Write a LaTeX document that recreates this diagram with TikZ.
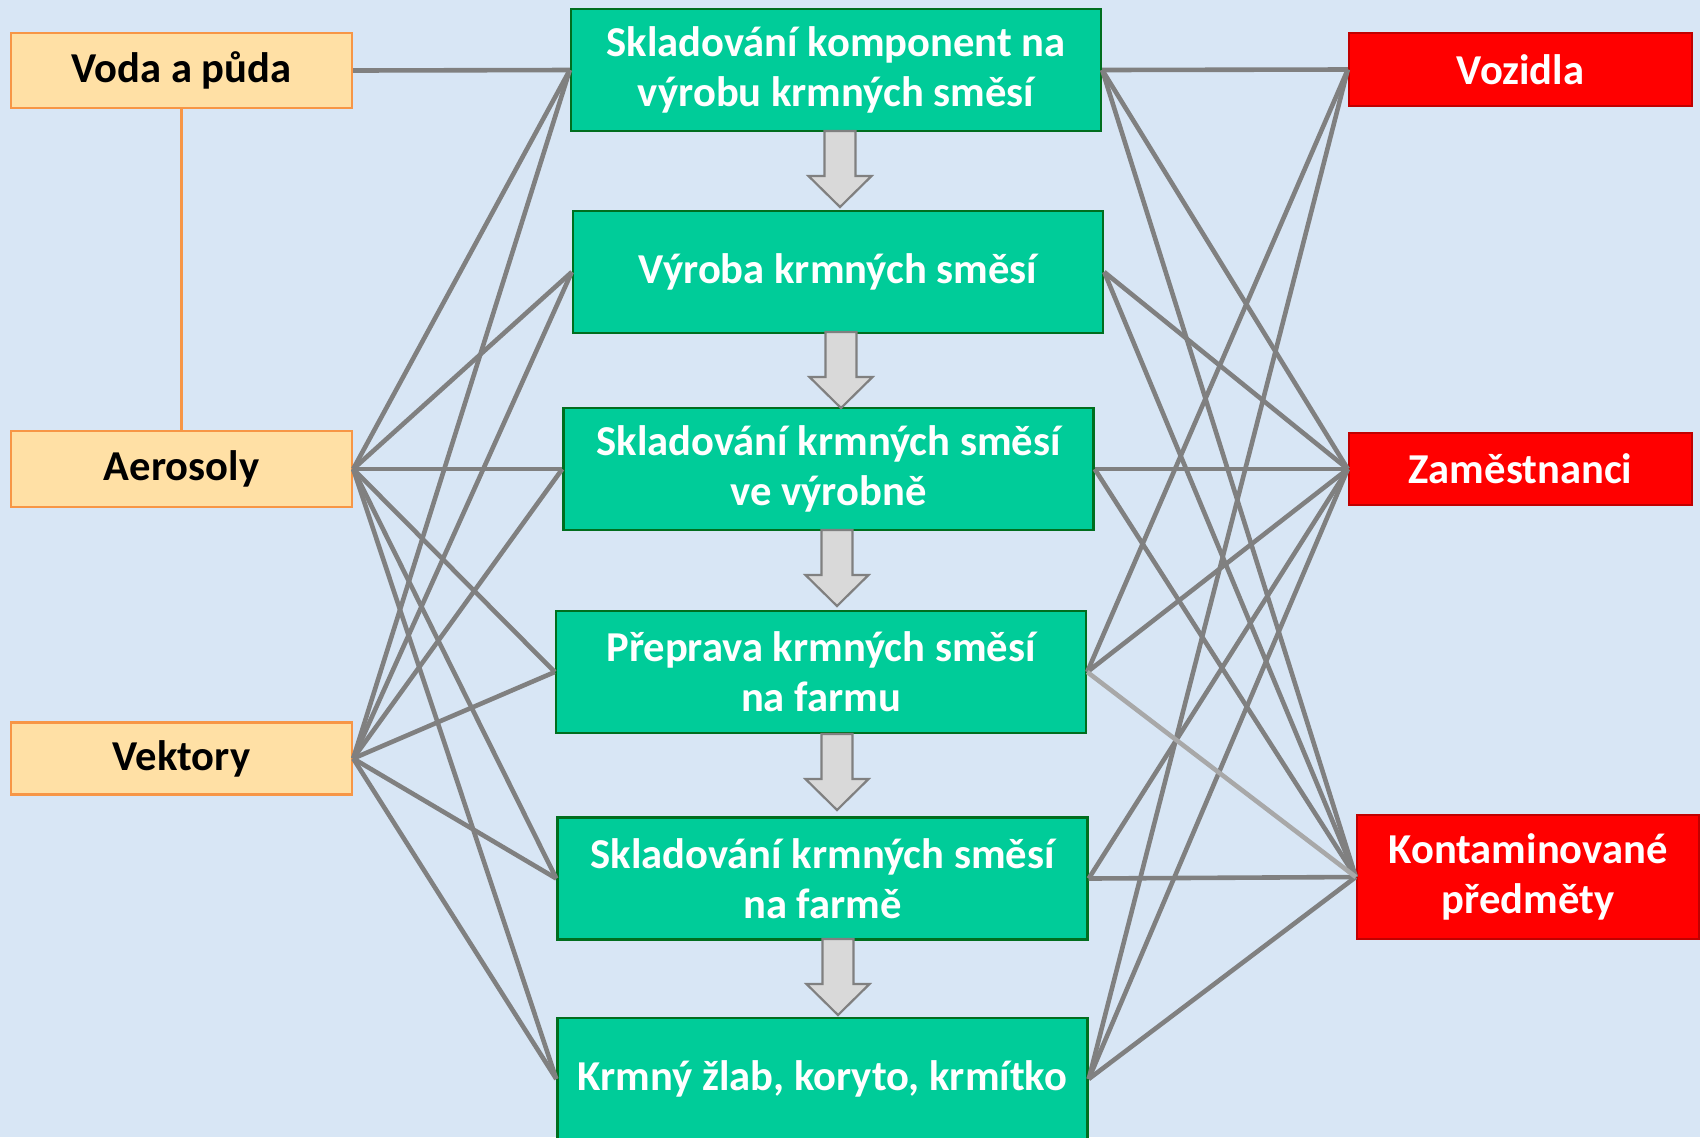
\documentclass[tikz,border=0pt]{standalone}
\usepackage{fontspec}
\setmainfont{Carlito}
\usetikzlibrary{calc}
\definecolor{bgblue}{RGB}{216,230,245}
\definecolor{gfill}{RGB}{0,204,153}
\definecolor{gdraw}{RGB}{0,110,30}
\definecolor{rfill}{RGB}{255,0,0}
\definecolor{rdraw}{RGB}{192,0,0}
\definecolor{ofill}{RGB}{255,224,165}
\definecolor{odraw}{RGB}{247,150,70}
\definecolor{lgrey}{RGB}{128,128,128}
\definecolor{lgreylight}{RGB}{168,168,168}
\definecolor{afill}{RGB}{217,217,217}
\tikzset{
  box/.style={rectangle, inner sep=0pt, align=center, font=\fontsize{21.3}{25}\selectfont\bfseries, line width=1.2pt},
  gbox/.style={box, fill=gfill, draw=gdraw, text=white, minimum width=265pt, minimum height=61pt},
  rbox/.style={box, fill=rfill, draw=rdraw, text=white, minimum width=171.5pt},
  obox/.style={box, fill=ofill, draw=odraw, text=black, minimum width=170.5pt},
  link/.style={draw=lgrey, line width=2.3pt},
  linklight/.style={draw=lgreylight, line width=2.3pt},
  blockarrow/.pic={
    \draw[fill=afill, draw=lgrey, line width=1.1pt, line join=miter]
      (-15.5,0) -- (15.5,0) -- (15.5,45) -- (31.5,45) -- (0,76) -- (-31.5,45) -- (-15.5,45) -- cycle;
  }
}
\begin{document}
\begin{tikzpicture}[x=0.5pt,y=-0.5pt]
\useasboundingbox (0,0) rectangle (1700,1137);
\fill[bgblue] (0,0) rectangle (1700,1137);
\clip (0,0) rectangle (1700,1137);

% left boxes
\node[obox, minimum height=37.5pt] (voda) at (181.5,70.5) {Voda a půda};
\node[obox, minimum height=38pt] (aero) at (181.5,469) {Aerosoly};
\node[obox, minimum height=36pt] (vekt) at (181.5,758.5) {Vektory};

% centre boxes
\node[gbox] (g1) at (836,70) {Skladování komponent na\\výrobu krmných směsí};
\node[gbox] (g2) at (838,272) {Výroba krmných směsí};
\node[gbox] (g3) at (828.5,469) {Skladování krmných směsí\\ve výrobně};
\node[gbox] (g4) at (821,672) {Přeprava krmných směsí\\na farmu};
\node[gbox] (g5) at (822.5,878.5) {Skladování krmných směsí\\na farmě};
\node[gbox] (g6) at (822.5,1079) {Krmný žlab, koryto, krmítko};

% right boxes
\node[rbox, minimum height=36.5pt] (voz) at (1520.5,69.5) {Vozidla};
\node[rbox, minimum height=36pt] (zam) at (1520.5,469) {Zaměstnanci};
\node[rbox, minimum width=171pt, minimum height=62pt] (kont) at (1528,877) {Kontaminované\\předměty};

% orange connector
\draw[draw=odraw, line width=1.7pt] (voda.south) -- (aero.north);

% left connectors
\draw[link] (voda.east) -- (g1.west);
\foreach \g in {g1,g2,g3,g4,g5,g6}{
  \draw[link] (aero.east) -- (\g.west);
  \draw[link] (vekt.east) -- (\g.west);
}

% right connectors
\foreach \g in {g1,g4,g6}{\draw[link] (\g.east) -- (voz.west);}
\foreach \g in {g1,g2,g3,g4,g5,g6}{\draw[link] (\g.east) -- (zam.west);}
\foreach \g in {g1,g2,g3,g5,g6}{\draw[link] (\g.east) -- (kont.west);}
\draw[linklight] (g4.east) -- (kont.west);

% block arrows
\pic at (840,131) {blockarrow};
\pic at (841,332) {blockarrow};
\pic at (837,530) {blockarrow};
\pic at (837,734) {blockarrow};
\pic at (838,939) {blockarrow};
\end{tikzpicture}
\end{document}
